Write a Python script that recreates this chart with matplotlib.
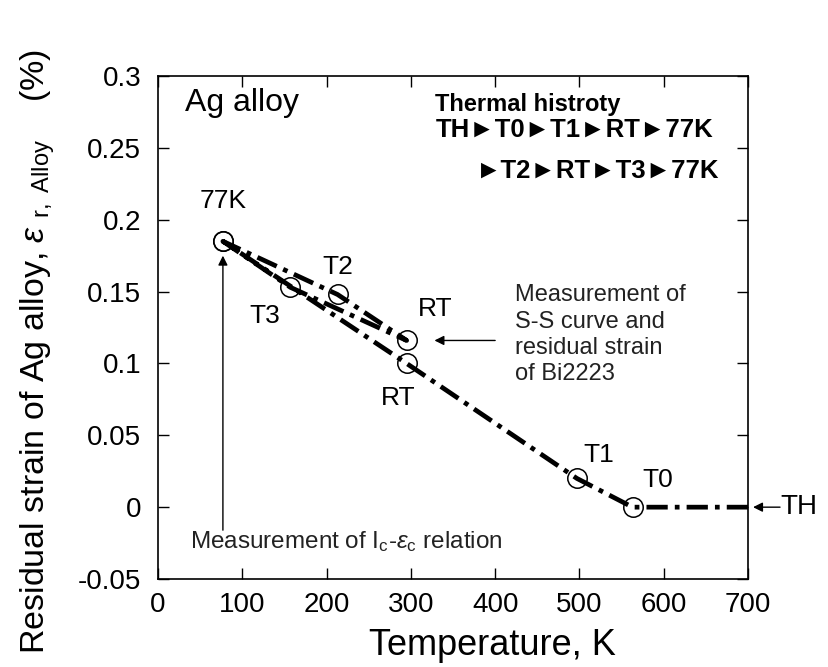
import numpy as np
import matplotlib
matplotlib.use("Agg")
from matplotlib import pyplot as plt

plt.rcParams['font.family'] = ['Liberation Sans', 'DejaVu Sans']
plt.rcParams['mathtext.fontset'] = 'custom'
plt.rcParams['mathtext.rm'] = 'Liberation Sans'
plt.rcParams['mathtext.it'] = 'Liberation Sans:italic'

# Thermal history path: TH -> T0 -> T1 -> RT -> 77K -> T2 -> RT -> T3 -> 77K
path_labels = ['TH', 'T0', 'T1', 'RT', '77K', 'T2', 'RT', 'T3', '77K']
path_temp = [700, 563, 497, 295, 77, 213, 295, 157, 77]
path_strain = [0.0, 0.0, 0.020, 0.100, 0.185, 0.148, 0.116, 0.153, 0.185]

# circles at the measured states (all except TH)
point_temp = path_temp[1:]
point_strain = path_strain[1:]

xticks = [0, 100, 200, 300, 400, 500, 600, 700]
yticks = [-0.05, 0, 0.05, 0.1, 0.15, 0.2, 0.25, 0.3]
ytick_labels = ['-0.05', '0', '0.05', '0.1', '0.15', '0.2', '0.25', '0.3']

fig = plt.figure(figsize=(8.29, 6.67), dpi=100)
ax = fig.add_axes([0.1906, 0.1319, 0.7117, 0.7541])

ax.plot(path_temp, path_strain, color='black', lw=3.4,
        linestyle=(0, (4.5, 1.5, 1.0, 1.5)), solid_capstyle='butt', zorder=2)
ax.plot(point_temp, point_strain, 'o', ms=14, mfc='none', mec='black', mew=1.1, zorder=3)

ax.set_xlim(0, 700)
ax.set_ylim(-0.05, 0.3)
ax.set_xticks(xticks)
ax.set_yticks(yticks)
ax.set_yticklabels(ytick_labels)
ax.tick_params(direction='in', length=8, width=1, labelsize=20, top=True, right=True)
ax.tick_params(axis='y', pad=12)
ax.tick_params(axis='x', pad=9)
for s in ax.spines.values():
    s.set_linewidth(1.2)

ax.set_xlabel('Temperature, K', fontsize=26)
ax.xaxis.set_label_coords(0.566, -0.098)
ax.set_ylabel(r'Residual strain of Ag alloy, $\varepsilon$ $_{\mathrm{r,\ Alloy}}$    (%)',
              fontsize=24.5)
ax.yaxis.set_label_coords(-0.172, 0.452)

# point labels
ax.text(77, 0.213, '77K', fontsize=19, ha='center', va='center')
ax.text(213, 0.167, 'T2', fontsize=19, ha='center', va='center')
ax.text(127, 0.133, 'T3', fontsize=19, ha='center', va='center')
ax.text(329, 0.138, 'RT', fontsize=19, ha='center', va='center')
ax.text(285, 0.076, 'RT', fontsize=19, ha='center', va='center')
ax.text(523, 0.036, 'T1', fontsize=19, ha='center', va='center')
ax.text(593, 0.019, 'T0', fontsize=19, ha='center', va='center')

ax.text(32, 0.281, 'Ag alloy', fontsize=23, ha='left', va='center')
ax.text(329, 0.28, 'Thermal histroty', fontsize=17, fontweight='bold', ha='left', va='center')
ax.text(329, 0.263, 'TH\u25baT0\u25baT1\u25baRT\u25ba77K', fontsize=18.5, fontweight='bold',
        ha='left', va='center')
ax.text(377, 0.234, '\u25baT2\u25baRT\u25baT3\u25ba77K', fontsize=18.5, fontweight='bold',
        ha='left', va='center')

# annotation arrows
arrow = dict(arrowstyle='-|>', color='black', lw=1, mutation_scale=14, shrinkA=0, shrinkB=0)
ax.annotate('', xy=(328, 0.116), xytext=(400, 0.116), arrowprops=arrow)
ax.text(423, 0.120, 'Measurement of\nS-S curve and\nresidual strain\nof Bi2223',
        fontsize=17, color='#222222', ha='left', va='center', linespacing=1.25)

ax.annotate('', xy=(77, 0.175), xytext=(77, -0.016), arrowprops=arrow)
ax.text(38, -0.024, r'Measurement of I$_{\mathrm{c}}$-$\varepsilon_{\mathrm{c}}$ relation',
        fontsize=17.5, color='#222222', ha='left', va='center')

ax.annotate('', xy=(706, 0.0), xytext=(738, 0.0), arrowprops=arrow, annotation_clip=False)
ax.text(738, 0.0, 'TH', fontsize=20, ha='left', va='center')

fig.savefig('out.png', dpi=100)
